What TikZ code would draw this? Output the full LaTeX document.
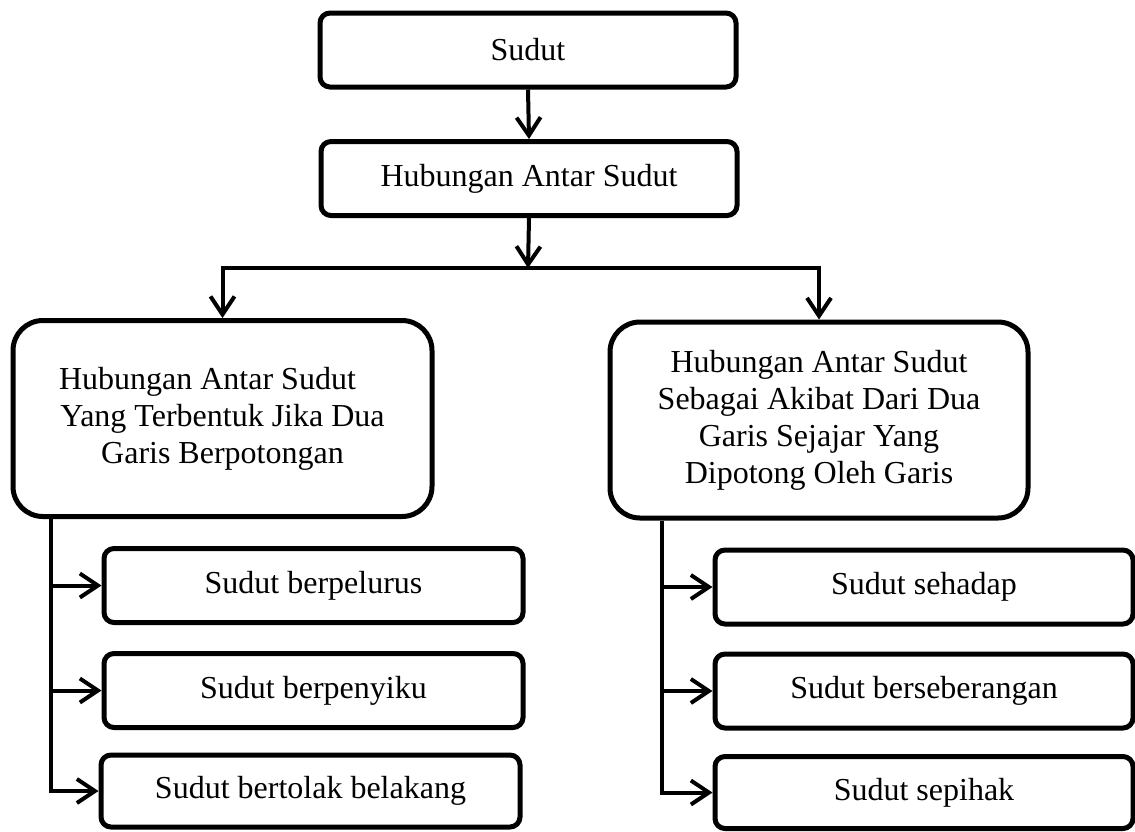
\documentclass[tikz,border=0pt]{standalone}
\usepackage{fontspec}
\setmainfont{Liberation Serif}
\usetikzlibrary{arrows.meta}
\begin{document}
\begin{tikzpicture}[x=0.5pt,y=-0.5pt,
  box/.style={draw,line width=2.5pt,rounded corners=5pt,inner sep=0pt,
    font=\fontsize{16}{18.5}\selectfont,align=center},
  smallbox/.style={box,minimum width=209.5pt,minimum height=37pt},
  bigbox/.style={box,rounded corners=15pt,minimum width=209.5pt,minimum height=98pt},
  conn/.style={line width=2pt},
  arr/.style={conn,-{Straight Barb[length=9pt,width=12pt]}},
  arrboth/.style={conn,{Straight Barb[length=9pt,width=12pt]}-{Straight Barb[length=9pt,width=12pt]}}]
\useasboundingbox (0,0) rectangle (1135,831);

\node[smallbox,minimum width=208pt] (sudut) at (528,50) {Sudut};
\node[smallbox,minimum width=208pt] (hub) at (529,178.5) {Hubungan Antar Sudut};

\node[bigbox] (L) at (222.5,418.5) {Hubungan Antar Sudut\hspace*{15pt}\\Yang Terbentuk Jika Dua\\Garis Berpotongan};
\node[bigbox,minimum width=209pt] (R) at (819,420) {Hubungan Antar Sudut\\Sebagai Akibat Dari Dua\\Garis Sejajar Yang\\Dipotong Oleh Garis};

\node[smallbox] (a1) at (313.5,585.5) {Sudut berpelurus};
\node[smallbox] (a2) at (313.5,690.5) {Sudut berpenyiku};
\node[smallbox,minimum height=36pt] (a3) at (310.5,791) {Sudut bertolak belakang};

\node[smallbox,minimum width=209pt] (b1) at (924,587) {Sudut sehadap};
\node[smallbox,minimum width=209pt] (b2) at (924,691) {Sudut berseberangan};
\node[smallbox,minimum width=209pt,minimum height=36pt] (b3) at (924,792.5) {Sudut sepihak};

\coordinate (j) at (528,268);
\coordinate (lx) at (51,0);
\coordinate (rx) at (662,0);

\draw[arr] (sudut.south) -- (hub.north);
\draw[arr] (hub.south) -- (j);
\draw[arrboth] (L.north) |- (j) -| (R.north);

\draw[arr] (L.south -| lx) |- (a3.west);
\draw[arr] (lx |- a1.west) -- (a1.west);
\draw[arr] (lx |- a2.west) -- (a2.west);

\draw[arr] (R.south -| rx) |- (b3.west);
\draw[arr] (rx |- b1.west) -- (b1.west);
\draw[arr] (rx |- b2.west) -- (b2.west);
\end{tikzpicture}
\end{document}
